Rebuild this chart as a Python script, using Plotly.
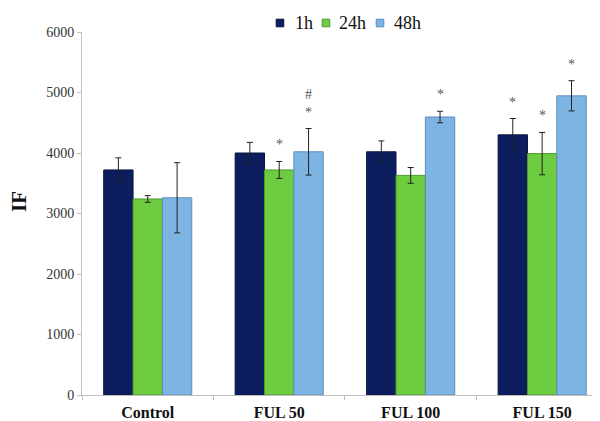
import plotly.graph_objects as go

categories = ["Control", "FUL 50", "FUL 100", "FUL 150"]
series_names = ["1h", "24h", "48h"]
vals_1h = [3720, 4000, 4020, 4300]
vals_24h = [3240, 3720, 3630, 3990]
vals_48h = [3260, 4020, 4595, 4945]
err_1h = [200, 175, 180, 270]
err_24h = [55, 140, 130, 350]
err_48h = [580, 385, 95, 250]
sig_1h = ["", "", "", "*"]
sig_24h = ["", "*", "", "*"]
sig_48h = ["", "#<br>*", "*", "*"]

colors = ["#0c1e5e", "#6dcc3f", "#7db4e2"]
outlines = ["#08153f", "#4e9a2c", "#5b8ec0"]
serif = "Liberation Serif"

# legend layout (paper coords): square centers and label left edges
legend_sq_x = [0.3822, 0.4710, 0.5753]
legend_txt_x = [0.4073, 0.4923, 0.5985]
legend_y = 1.0248

fig = go.Figure()
all_vals = [vals_1h, vals_24h, vals_48h]
all_errs = [err_1h, err_24h, err_48h]
all_sigs = [sig_1h, sig_24h, sig_48h]
for name, v, e, c, o in zip(series_names, all_vals, all_errs, colors, outlines):
    fig.add_trace(go.Bar(
        x=categories, y=v, name=name, showlegend=False,
        marker=dict(color=c, line=dict(color=o, width=1)),
        error_y=dict(type="data", array=e, visible=True, color="#222222", thickness=1, width=3),
    ))

bargap = 0.33
bar_w = (1 - bargap) / 3
annotations = []
for si, (v, e, s) in enumerate(zip(all_vals, all_errs, all_sigs)):
    offset = (si - 1) * bar_w
    for ci, txt in enumerate(s):
        if not txt:
            continue
        annotations.append(dict(
            x=ci + offset, y=v[ci] + e[ci], xref="x", yref="y",
            text=txt, showarrow=False, yanchor="bottom", yshift=7,
            font=dict(family=serif, size=14, color="#555555"),
        ))

annotations.append(dict(
    x=-0.122, y=0.534, xref="paper", yref="paper", text="IF", textangle=-90,
    showarrow=False, xanchor="center", yanchor="middle",
    font=dict(family=serif, size=21, color="#111111", weight="bold"),
))

shapes = []
hx, hy = 3.8 / 518, 3.8 / 363
for name, c, o, sx, tx in zip(series_names, colors, outlines, legend_sq_x, legend_txt_x):
    shapes.append(dict(type="rect", xref="paper", yref="paper",
                       x0=sx - hx, x1=sx + hx, y0=legend_y - hy, y1=legend_y + hy,
                       fillcolor=c, line=dict(color=o, width=1)))
    annotations.append(dict(x=tx, y=legend_y, xref="paper", yref="paper", text=name,
                            showarrow=False, xanchor="left", yanchor="middle",
                            font=dict(family=serif, size=18, color="#111111")))

# page body has an 8px margin; figure is sized/placed to compensate
fig.update_layout(
    width=592, height=413,
    paper_bgcolor="white", plot_bgcolor="white",
    margin=dict(l=74, r=0, t=24, b=26),
    barmode="group", bargap=bargap, bargroupgap=0,
    font=dict(family=serif, color="#222222"),
    annotations=annotations, shapes=shapes,
    showlegend=False,
)
fig.update_xaxes(
    type="category", range=[-0.5, 3.44], showline=True, linecolor="#bfbfbf", linewidth=1,
    ticks="outside", tickson="boundaries", ticklen=4, tickcolor="#bfbfbf",
    tickfont=dict(family=serif, size=16, color="#111111", weight="bold"),
    ticklabelstandoff=3,
    showgrid=False, automargin=False,
)
fig.update_yaxes(
    range=[0, 6000], dtick=1000, showline=True, linecolor="#bfbfbf", linewidth=1,
    ticks="outside", ticklen=4, tickcolor="#bfbfbf", showgrid=False,
    tickfont=dict(family=serif, size=14, color="#333333"),
    automargin=False, zeroline=False,
)
fig.write_html("out.html")
